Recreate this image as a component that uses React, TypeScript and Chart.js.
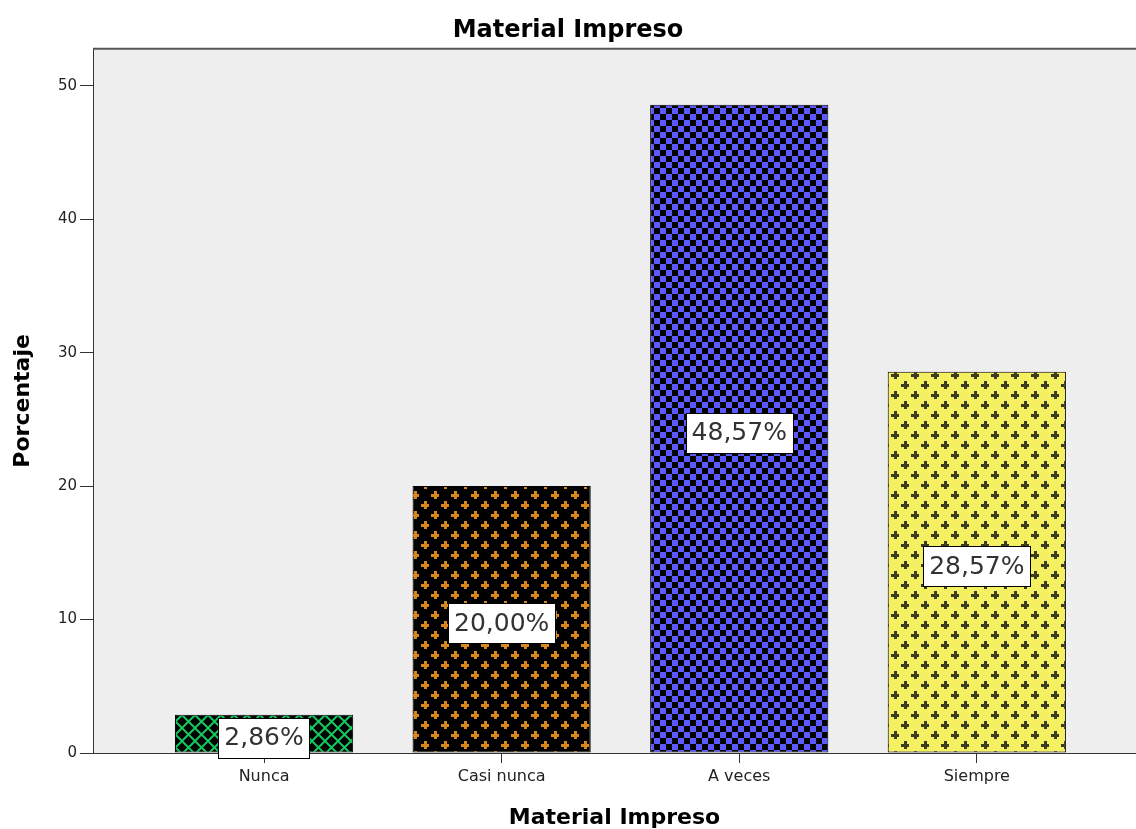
import React, { useEffect, useRef } from "react";
import { Chart, registerables } from "chart.js";

Chart.register(...registerables);

const categories = ["Nunca", "Casi nunca", "A veces", "Siempre"];
const percentages = [2.86, 20.0, 48.57, 28.57];
const valueLabels = ["2,86%", "20,00%", "48,57%", "28,57%"];
const yTickValues = [0, 10, 20, 30, 40, 50];

const FONT = "'DejaVu Sans', 'Liberation Sans', Arial, sans-serif";

function tile(ctx: CanvasRenderingContext2D, w: number, h: number, draw: (c: CanvasRenderingContext2D) => void) {
  const cv = document.createElement("canvas");
  cv.width = w;
  cv.height = h;
  const c = cv.getContext("2d")!;
  draw(c);
  return ctx.createPattern(cv, "repeat")!;
}

function plusTile(ctx: CanvasRenderingContext2D, bg: string, fg: string) {
  return tile(ctx, 20, 20, (c) => {
    c.fillStyle = bg;
    c.fillRect(0, 0, 20, 20);
    c.fillStyle = fg;
    const plus = (cx: number, cy: number) => {
      c.fillRect(cx - 4, cy - 1, 8, 3);
      c.fillRect(cx - 1, cy - 4, 3, 8);
    };
    plus(5, 5);
    plus(15, 15);
  });
}

function latticeTile(ctx: CanvasRenderingContext2D) {
  const p = 13;
  return tile(ctx, p, p, (c) => {
    c.fillStyle = "#000";
    c.fillRect(0, 0, p, p);
    c.strokeStyle = "#12c860";
    c.lineWidth = 2;
    c.beginPath();
    c.moveTo(0, 0);
    c.lineTo(p, p);
    c.moveTo(p, 0);
    c.lineTo(0, p);
    c.stroke();
  });
}

function checkerTile(ctx: CanvasRenderingContext2D) {
  const s = 6;
  return tile(ctx, s * 2, s * 2, (c) => {
    c.fillStyle = "#000";
    c.fillRect(0, 0, s * 2, s * 2);
    c.fillStyle = "#5a5aff";
    c.fillRect(0, 0, s, s);
    c.fillRect(s, s, s, s);
  });
}

const bgPlugin = {
  id: "plotBg",
  beforeDraw(chart: any) {
    const { ctx, chartArea: a } = chart;
    ctx.save();
    ctx.fillStyle = "#eeeeee";
    ctx.fillRect(a.left, a.top, a.right - a.left, a.bottom - a.top);
    ctx.restore();
  },
  afterDraw(chart: any) {
    const { ctx, chartArea: a } = chart;
    ctx.save();
    ctx.strokeStyle = "#555";
    ctx.lineWidth = 2;
    ctx.beginPath();
    ctx.moveTo(a.left, a.top);
    ctx.lineTo(a.right, a.top);
    ctx.stroke();
    ctx.restore();
  },
};

const labelPlugin = {
  id: "valueBoxes",
  afterDatasetsDraw(chart: any) {
    const { ctx } = chart;
    const meta = chart.getDatasetMeta(0);
    ctx.save();
    ctx.font = `25px ${FONT}`;
    ctx.textAlign = "center";
    ctx.textBaseline = "middle";
    meta.data.forEach((el: any, i: number) => {
      const text = valueLabels[i];
      const cx = el.x;
      const cy = (el.y + el.base) / 2 + 4;
      const w = ctx.measureText(text).width + 12;
      const h = 40;
      const x0 = Math.round(cx - w / 2) + 0.5;
      const y0 = Math.round(cy - h / 2) + 0.5;
      ctx.fillStyle = "#fff";
      ctx.fillRect(x0, y0, Math.round(w), h);
      ctx.strokeStyle = "#000";
      ctx.lineWidth = 1;
      ctx.strokeRect(x0, y0, Math.round(w), h);
      ctx.fillStyle = "#333";
      ctx.fillText(text, cx, cy + 1);
    });
    ctx.restore();
  },
};

export default function App() {
  const ref = useRef<HTMLCanvasElement>(null);

  useEffect(() => {
    document.body.style.margin = "0";
    const canvas = ref.current!;
    const ctx = canvas.getContext("2d")!;
    const fills = [
      latticeTile(ctx),
      plusTile(ctx, "#000000", "#d8871c"),
      checkerTile(ctx),
      plusTile(ctx, "#f5f062", "#3c3c1e"),
    ];
    const chart = new Chart(canvas, {
      type: "bar",
      data: {
        datasets: [
          {
            data: percentages.map((v, i) => ({ x: i, y: v })),
            backgroundColor: fills as any,
            borderColor: "#000",
            borderWidth: 1,
            borderSkipped: false,
            barPercentage: 0.75,
            categoryPercentage: 1,
          },
        ],
      },
      options: {
        responsive: false,
        animation: false,
        layout: { padding: 0 },
        plugins: {
          legend: { display: false },
          tooltip: { enabled: false },
          title: {
            display: true,
            text: "Material Impreso",
            color: "#000",
            font: { family: FONT, size: 24, weight: "bold", lineHeight: 1.2 },
            padding: { top: 16, bottom: 4 },
          },
        },
        scales: {
          x: {
            type: "linear",
            min: -0.72,
            max: 3.67,
            offset: false,
            afterBuildTicks: (s: any) => {
              s.ticks = categories.map((_, i) => ({ value: i }));
            },
            afterFit: (s: any) => {
              s.height = 76;
            },
            ticks: {
              callback: (v: any) => categories[v as number] ?? "",
              color: "#222",
              font: { family: FONT, size: 16 },
              padding: 4,
              maxRotation: 0,
              autoSkip: false,
            },
            grid: { offset: false, drawOnChartArea: false, drawTicks: true, tickLength: 10, color: "#333" },
            border: { display: true, color: "#333", width: 1 },
            title: {
              display: true,
              text: "Material Impreso",
              color: "#000",
              font: { family: FONT, size: 22, weight: "bold", lineHeight: 1 },
              padding: { top: 0, bottom: 0 },
            },
          },
          y: {
            min: 0,
            max: 52.77,
            afterBuildTicks: (s: any) => {
              s.ticks = yTickValues.map((v) => ({ value: v }));
            },
            afterFit: (s: any) => {
              s.width = 93;
            },
            ticks: {
              color: "#222",
              font: { family: FONT, size: 15 },
              padding: 3,
            },
            grid: { drawOnChartArea: false, drawTicks: true, tickLength: 13, color: "#333" },
            border: { display: true, color: "#333", width: 1 },
            title: {
              display: true,
              text: "Porcentaje",
              color: "#000",
              font: { family: FONT, size: 22, weight: "bold", lineHeight: 1 },
              padding: { top: 12, bottom: 0 },
            },
          },
        },
      },
      plugins: [bgPlugin, labelPlugin],
    } as any);
    return () => chart.destroy();
  }, []);

  return (
    <div style={{ position: "absolute", left: 0, top: 0, width: 1136, height: 829 }}>
      <canvas ref={ref} width={1136} height={829} style={{ display: "block" }} />
    </div>
  );
}
